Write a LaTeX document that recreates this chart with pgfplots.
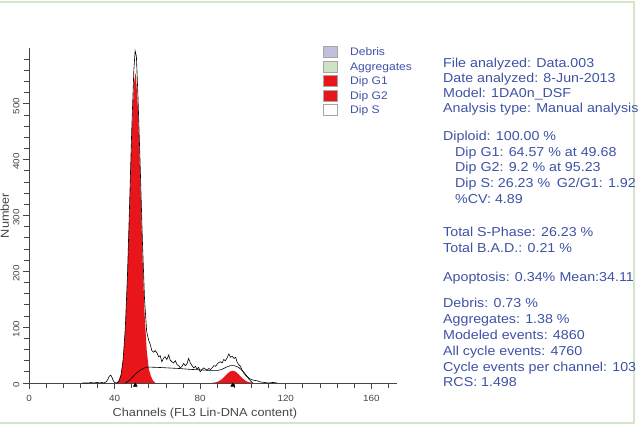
\documentclass[border=0pt]{standalone}
\usepackage{fontspec}
\setmainfont{Liberation Sans}[FakeStretch=1.1]
\usepackage{pgfplots}
\pgfplotsset{compat=1.18}
\definecolor{stattext}{RGB}{62,82,165}
\definecolor{dipred}{RGB}{232,22,26}
\definecolor{framegreen}{RGB}{212,230,202}
\definecolor{axgray}{RGB}{70,70,70}
\definecolor{debris}{RGB}{192,192,222}
\definecolor{aggr}{RGB}{204,228,196}
\begin{document}
\begin{tikzpicture}
\path[use as bounding box] (0,0) rectangle (640bp,426bp);
\begin{axis}[
  at={(29bp,43bp)}, anchor=south west,
  scale only axis, width=368bp, height=335bp,
  xmin=0, xmax=172, ymin=0, ymax=600,
  axis x line*=bottom, axis y line*=left,
  axis line style={draw=axgray, line width=0.9pt, -},
  xtick={0,40,...,160}, minor xtick={8,16,...,168},
  ytick={0,100,...,500}, minor ytick={20,40,...,580},
  tick align=outside,
  major tick length=6bp, minor tick length=5bp,
  major tick style={draw=axgray, line width=0.8pt},
  minor tick style={draw=axgray, line width=0.8pt},
  tick label style={font=\fontsize{9}{10}\selectfont, text=axgray},
  /pgf/number format/assume math mode=true,
  xticklabel style={yshift=-3bp},
  yticklabel style={rotate=90, anchor=south, xshift=-2bp},
  xlabel={Channels (FL3 Lin-DNA content)},
  ylabel={Number},
  label style={font=\fontsize{11.6}{13}\selectfont, text=axgray},
  xlabel style={at={(axis description cs:0.478,-0.1)}, anchor=base},
  ylabel style={at={(axis description cs:-0.066,0.5)}, anchor=center},
  clip=false,
]
% Dip S (white area)
\addplot[fill=white, draw=none] coordinates {
 (45,0) (46,2) (47,5) (48,9) (49,13) (50,17) (51,20) (52,23) (53,25) (54,27) (55,28)
 (56,28.5) (60,28) (65,27) (70,26) (75,24.5) (80,23.5) (85,22.5) (88,22.5) (90,24)
 (92,28) (94,31) (96,31) (98,28) (100,21) (101.5,14) (103,6) (104.5,0)} \closedcycle;
% Dip G1
\addplot[fill=dipred, draw=none] coordinates {
 (41,0) (42,4.8) (43,15.3) (44,41) (45,95) (46,186) (47,310) (48,440) (49,534) (49.7,555)
 (50,551) (51,485) (52,364) (53,232) (54,126) (55,59) (56,25) (57,12) (58,4) (59,0)} \closedcycle;
% Dip G2
\addplot[fill=dipred, draw=none] coordinates {
 (85,0) (86,0.5) (87,1) (88,2) (89,3.8) (90,6.4) (91,9.8) (92,13.7) (93,17.6) (94,20.6)
 (95.2,22) (96,21.4) (97,19) (98,15.4) (99,11.3) (100,7.6) (101,4.7) (102,2.6) (103,1.4)
 (104,0.6) (105,0)} \closedcycle;
% Dip S outline
\addplot[black, line width=0.6pt] coordinates {
 (45,0) (46,2) (47,5) (48,9) (49,13) (50,17) (51,20) (52,23) (53,25) (54,27) (55,28)
 (56,28.5) (60,28) (65,27) (70,26) (75,24.5) (80,23.5) (85,22.5) (88,22.5) (90,24)
 (92,28) (94,31) (96,31) (98,28) (100,21) (101.5,14) (103,6) (104.5,0)};
% data histogram
\addplot[black, line width=0.6pt] coordinates {
 (25,0) (28,0) (29,1) (30,0) (32,1) (33,0) (34,1) (35,0) (36,2) (36.8,6) (37.5,12)
 (38.2,14) (38.8,10) (39.4,4) (40,1) (41,0) (42,3) (43,14) (44,42) (45,98) (46,190)
 (47,318) (48,452) (49,560) (49.6,595) (50.2,585) (51,505) (52,385) (53,255) (54,150)
 (55,92) (55.9,77) (56.6,70) (57.4,58) (58.2,55) (59,58) (59.8,54) (60.6,47) (61.3,49)
 (62.1,38) (62.8,44) (63.6,47) (64.4,42) (65.3,50) (66,41) (66.8,38) (67.6,36) (68.4,40)
 (69.2,33) (70,31) (70.7,27) (71.5,30) (72.3,35) (73,31) (73.8,34) (74.6,44) (75.4,36)
 (76.2,31) (77,27) (77.8,30) (78.5,25) (79.3,28) (80,20) (80.8,24) (81.6,27) (82.4,25)
 (83.2,23) (84,26) (84.8,24) (85.6,27) (86.4,31) (87.2,30) (88,34) (88.8,37) (89.5,38)
 (90.3,36) (91,42) (91.8,40) (92.6,45) (93.4,52) (94.2,46) (95,48) (95.8,44) (96.6,46)
 (97.3,37) (98,33) (98.8,30) (99.6,23) (100.4,18) (101.2,14) (102,11) (103,8) (104,6)
 (105,5) (106.6,4) (108,2) (110,1) (112,0) (114,1) (116,0)};
% peak position markers
\addplot[only marks, mark=triangle*, mark size=2.3pt, black] coordinates {(49.7,-4) (95.2,-4)};
\end{axis}
\begin{scope}[yshift=426bp, x=1bp, y=-1bp]
 % frame
 \draw[framegreen, line width=1.5bp] (0,2) -- (634,2) -- (634,423) -- (0,423);
 % legend
 \foreach \c/\yc in {debris/52, aggr/66.5, dipred/81, dipred/95.5, white/110}
   \draw[fill=\c, draw=gray!70, line width=0.8bp] (323,\yc-5.5) rectangle (337,\yc+5.5);
 \begin{scope}[every node/.style={anchor=base west, inner sep=0, text=stattext, font=\fontsize{11}{12}\selectfont}]
 \node at (350,56) {Debris};
 \node at (350,70.5) {Aggregates};
 \node at (350,85) {Dip G1};
 \node at (350,99.5) {Dip G2};
 \node at (350,114) {Dip S};
 \end{scope}
 % statistics
 \begin{scope}[every node/.style={anchor=base west, inner sep=0, text=stattext, font=\fontsize{13}{15}\selectfont}]
 \node at (443,67.6) {File analyzed: Data.003};
 \node at (443,82.6) {Date analyzed: 8-Jun-2013};
 \node at (443,97.6) {Model: 1DA0n\_DSF};
 \node at (443,112.6) {Analysis type: Manual analysis};
 \node at (443,141) {Diploid: 100.00 \%};
 \node at (455,156.6) {Dip G1: 64.57 \% at 49.68};
 \node at (455,171.6) {Dip G2: 9.2 \% at 95.23};
 \node at (455,187.6) {Dip S: 26.23 \%};
 \node[anchor=base east] at (636,187.6) {G2/G1: 1.92};
 \node at (455,204) {\%CV: 4.89};
 \node at (443,236.3) {Total S-Phase: 26.23 \%};
 \node at (443,252.6) {Total B.A.D.: 0.21 \%};
 \node at (443,281.6) {Apoptosis: 0.34\%};
 \node[anchor=base east] at (634,281.6) {Mean:34.11};
 \node at (443,307.6) {Debris: 0.73 \%};
 \node at (443,324) {Aggregates: 1.38 \%};
 \node at (443,339.6) {Modeled events: 4860};
 \node at (443,355.6) {All cycle events: 4760};
 \node at (443,371.6) {Cycle events per channel: 103};
 \node at (443,387) {RCS: 1.498};
 \end{scope}
\end{scope}
\end{tikzpicture}
\end{document}
